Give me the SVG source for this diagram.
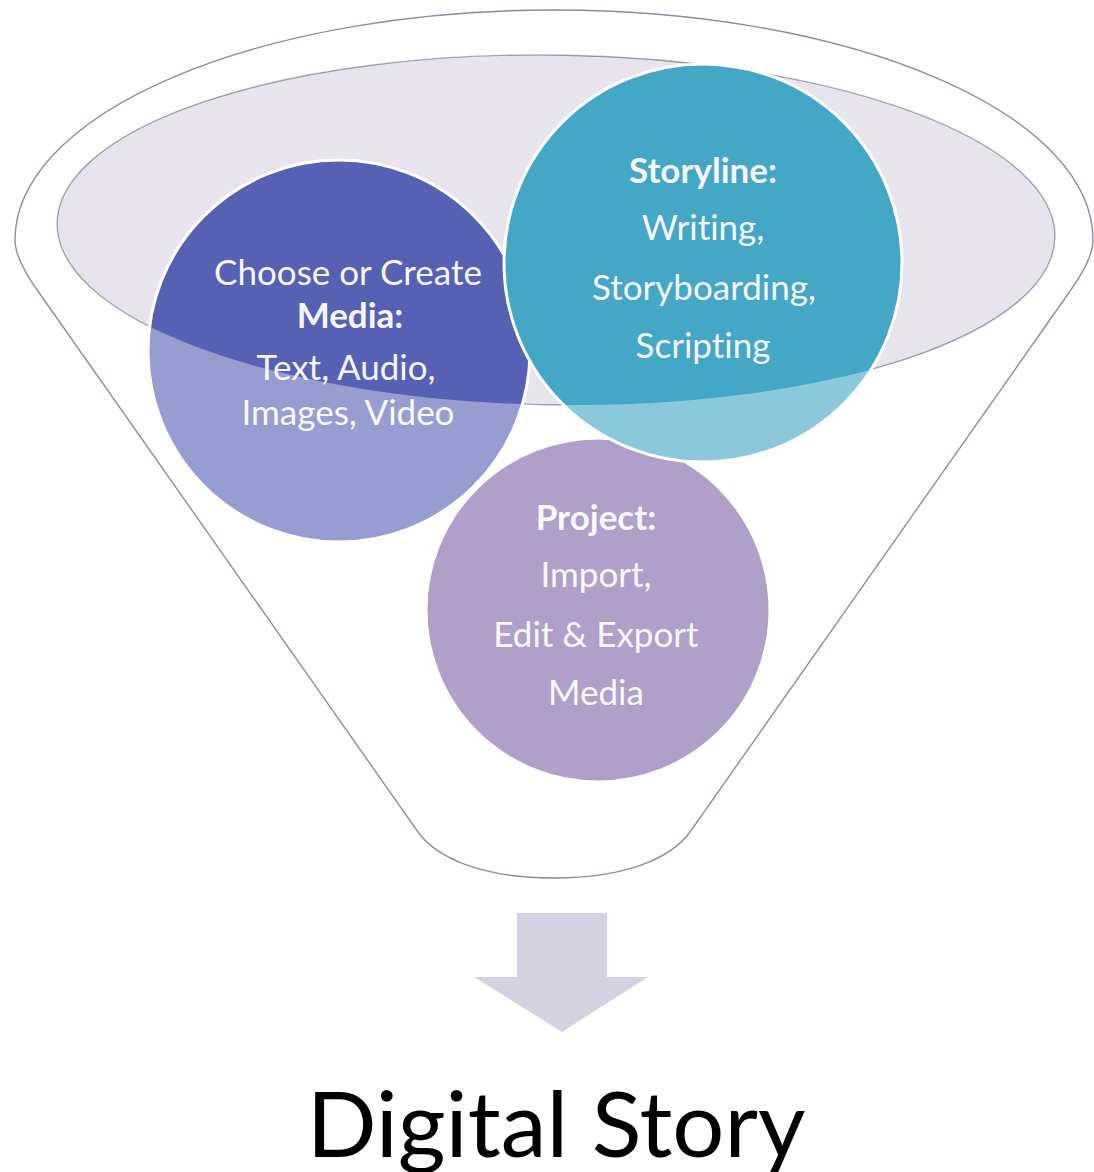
<svg xmlns="http://www.w3.org/2000/svg" width="1094" height="1172" viewBox="0 0 1094 1172">
  <style>
    .lbl { font-family: Lato, "Open Sans", "Liberation Sans", sans-serif; font-size: 35px; fill: #F6F5FB; text-anchor: middle; font-variant-ligatures: none; font-feature-settings: "liga" 0, "clig" 0; }
    .b { font-weight: bold; }
    .circ { stroke: #FFFFFF; stroke-width: 3; }
    .outline { fill: none; stroke: #8E8AA8; stroke-width: 1.4; }
    .title { font-family: Lato, "Open Sans", "Liberation Sans", sans-serif; font-size: 92px; fill: #000000; text-anchor: middle; font-variant-ligatures: none; font-feature-settings: "liga" 0, "clig" 0; }
  </style>
  <defs>
    <path id="funnelOuter" d="M 15,240 A 539,230 0 0 1 1093,240 C 1093,258 1079,279 1068,294 L 690,832 C 672,857 628,878 554,878 C 480,878 436,857 418,832 L 40,294 C 29,279 15,258 15,240 Z"/>
  </defs>
  <rect width="1094" height="1172" fill="#FFFFFF"/>

  <g id="funnel-opening">
    <ellipse cx="556" cy="230" rx="499" ry="175" transform="rotate(0.8 556 230)" fill="#E7E4EE" stroke="#8E8AA8" stroke-width="1.4"/>
  </g>

  <g id="node-project">
    <circle class="circ" cx="598" cy="610" r="172" fill="#8064A8"/>
    <text class="lbl b" x="596" y="530">Project:</text>
    <text class="lbl" x="596" y="587">Import,</text>
    <text class="lbl" x="596" y="647">Edit &amp; Export</text>
    <text class="lbl" x="596" y="705">Media</text>
  </g>

  <g id="node-media">
    <circle class="circ" cx="339" cy="351" r="191" fill="#5661B3"/>
    <text class="lbl" x="348" y="285">Choose or Create</text>
    <text class="lbl b" x="350" y="328">Media:</text>
    <text class="lbl" x="346" y="380">Text, Audio,</text>
    <text class="lbl" x="348" y="425">Images, Video</text>
  </g>

  <g id="node-storyline">
    <circle class="circ" cx="703" cy="263" r="199" fill="#45A7C6"/>
    <text class="lbl b" x="703" y="183">Storyline:</text>
    <text class="lbl" x="703" y="240">Writing,</text>
    <text class="lbl" x="704" y="300">Storyboarding,</text>
    <text class="lbl" x="703" y="358">Scripting</text>
  </g>

  <g id="funnel-body">
    <path d="M 15,240 A 539,230 0 0 1 1093,240 C 1093,258 1079,279 1068,294 L 690,832 C 672,857 628,878 554,878 C 480,878 436,857 418,832 L 40,294 C 29,279 15,258 15,240 Z" fill="#FFFFFF" fill-opacity="0.38" mask="url(#holeMask)"/>
    <use href="#funnelOuter" class="outline"/>
  </g>
  <defs>
    <mask id="holeMask" maskUnits="userSpaceOnUse" x="0" y="0" width="1094" height="1172">
      <rect width="1094" height="1172" fill="#FFFFFF"/>
      <ellipse cx="556" cy="230" rx="499" ry="175" transform="rotate(0.8 556 230)" fill="#000000"/>
    </mask>
  </defs>

  <g id="connectors">
    <path id="arrow-down" d="M 517,913 L 607,913 L 607,977 L 648,977 L 562,1032 L 474,977 L 517,977 Z" fill="#D4D1E2"/>
  </g>

  <g id="node-digital-story">
    <text class="title" x="556" y="1157">Digital Story</text>
  </g>
</svg>
